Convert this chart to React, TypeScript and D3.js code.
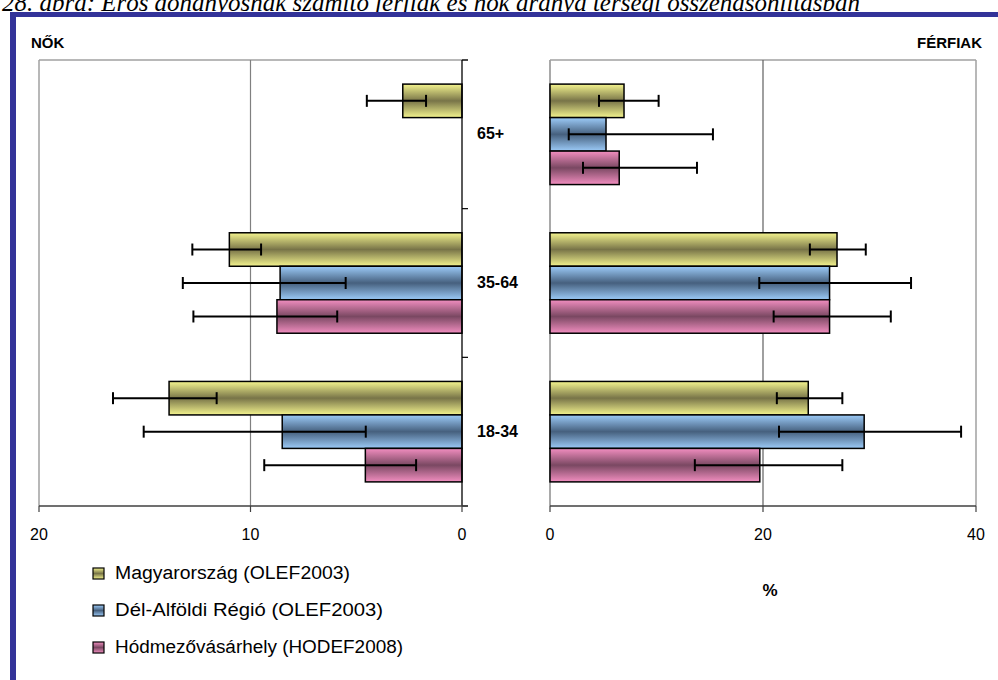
import React from "react";
import * as d3 from "d3";

const categories = ["65+", "35-64", "18-34"];
const seriesNames = [
  "Magyarország (OLEF2003)",
  "Dél-Alföldi Régió (OLEF2003)",
  "Hódmezővásárhely (HODEF2008)",
];
// Women (NŐK): value, lower CI, upper CI per category [65+, 35-64, 18-34]
const womenMagyar = [2.8, 11.0, 13.85];
const womenMagyarLo = [1.7, 9.5, 11.6];
const womenMagyarHi = [4.5, 12.75, 16.5];
const womenDel = [0, 8.6, 8.5];
const womenDelLo = [0, 5.5, 4.55];
const womenDelHi = [0, 13.2, 15.05];
const womenHod = [0, 8.75, 4.57];
const womenHodLo = [0, 5.9, 2.17];
const womenHodHi = [0, 12.7, 9.35];
// Men (FÉRFIAK)
const menMagyar = [6.95, 26.95, 24.25];
const menMagyarLo = [4.6, 24.4, 21.3];
const menMagyarHi = [10.2, 29.65, 27.45];
const menDel = [5.26, 26.25, 29.5];
const menDelLo = [1.76, 19.65, 21.5];
const menDelHi = [15.3, 33.9, 38.6];
const menHod = [6.5, 26.25, 19.7];
const menHodLo = [3.1, 21.0, 13.6];
const menHodHi = [13.8, 32.0, 27.45];

const womenTicks = [20, 10, 0];
const menTicks = [0, 20, 40];

const gradIds = ["gY", "gB", "gP"];
const gradColors = [
  ["#f4f48e", "#787448"],
  ["#9ccbf8", "#46607e"],
  ["#f28ec0", "#7a4862"],
];

export default function App() {
  const W = 998, H = 680;
  const top = 60, bottom = 506;
  const xL = d3.scaleLinear().domain([20, 0]).range([39, 462]);
  const xR = d3.scaleLinear().domain([0, 40]).range([550, 976]);
  const y0 = d3.scaleBand<string>().domain(categories).range([top, bottom]).padding(0);
  const y1 = d3.scaleBand<number>().domain([0, 1, 2]).range([0, y0.bandwidth()]).paddingInner(0).paddingOuter(0.72);

  const women = [
    { v: womenMagyar, lo: womenMagyarLo, hi: womenMagyarHi },
    { v: womenDel, lo: womenDelLo, hi: womenDelHi },
    { v: womenHod, lo: womenHodLo, hi: womenHodHi },
  ];
  const men = [
    { v: menMagyar, lo: menMagyarLo, hi: menMagyarHi },
    { v: menDel, lo: menDelLo, hi: menDelHi },
    { v: menHod, lo: menHodLo, hi: menHodHi },
  ];

  const font = "Arial, 'Liberation Sans', sans-serif";
  const bw = y1.bandwidth();

  const renderBars = (data: typeof women, x: d3.ScaleLinear<number, number>, side: "L" | "R") =>
    data.map((s, si) =>
      categories.map((c, ci) => {
        const yy = (y0(c) as number) + (y1(si) as number);
        const x0 = x(0);
        const xv = x(s.v[ci]);
        const rx = Math.min(x0, xv);
        const rw = Math.abs(xv - x0);
        const cy = yy + bw / 2;
        const hasErr = s.hi[ci] > 0;
        return (
          <g key={side + si + "-" + ci}>
            <rect x={rx} y={yy} width={rw} height={bw} fill={`url(#${gradIds[si]})`} stroke="#000" strokeWidth={1.5} />
            {hasErr && (
              <g stroke="#000" strokeWidth={2}>
                <line x1={x(s.lo[ci])} x2={x(s.hi[ci])} y1={cy} y2={cy} />
                <line x1={x(s.lo[ci])} x2={x(s.lo[ci])} y1={cy - 6} y2={cy + 6} />
                <line x1={x(s.hi[ci])} x2={x(s.hi[ci])} y1={cy - 6} y2={cy + 6} />
              </g>
            )}
          </g>
        );
      })
    );

  const boundaries = [top, ...categories.map((c) => (y0(c) as number) + y0.bandwidth())];

  return (
    <svg width={W} height={H} style={{ position: "absolute", left: 0, top: 0, background: "#fff" }}>
      <defs>
        {gradIds.map((id, i) => (
          <linearGradient key={id} id={id} x1="0" y1="0" x2="0" y2="1">
            <stop offset="0" stopColor={gradColors[i][0]} />
            <stop offset="0.5" stopColor={gradColors[i][1]} />
            <stop offset="1" stopColor={gradColors[i][0]} />
          </linearGradient>
        ))}
      </defs>
      <rect x={0} y={0} width={W} height={H} fill="#fff" />
      {/* partially visible title (cut at the top as in the source) */}
      <text x={2} y={11} fontFamily="'Liberation Serif', 'Times New Roman', serif" fontStyle="italic" fontSize={25}
        textLength={858} lengthAdjust="spacingAndGlyphs" fill="#000">
        28. ábra: Erős dohányosnak számító férfiak és nők aránya térségi összehasonlításban
      </text>
      {/* frame */}
      <rect x={10} y={12} width={W - 10} height={5} fill="#333399" />
      <rect x={10} y={12} width={6} height={H - 12} fill="#333399" />

      <text x={31} y={48} fontFamily={font} fontWeight="bold" fontSize={15} fill="#000">NŐK</text>
      <text x={982} y={48} fontFamily={font} fontWeight="bold" fontSize={15} fill="#000" textAnchor="end">FÉRFIAK</text>

      {/* Left panel frame + grid */}
      <line x1={xL(20)} x2={xL(0) + 6} y1={top} y2={top} stroke="#a0a0a0" strokeWidth={1.5} />
      <line x1={xL(20)} x2={xL(20)} y1={top} y2={bottom} stroke="#a0a0a0" strokeWidth={1.5} />
      {womenTicks.filter((t) => t !== 0 && t !== 20).map((t) => (
        <line key={"gl" + t} x1={xL(t)} x2={xL(t)} y1={top} y2={bottom} stroke="#808080" strokeWidth={1.2} />
      ))}
      {/* Right panel frame + grid */}
      <line x1={xR(0)} x2={xR(40)} y1={top} y2={top} stroke="#a0a0a0" strokeWidth={1.5} />
      <line x1={xR(40)} x2={xR(40)} y1={top} y2={bottom} stroke="#a0a0a0" strokeWidth={1.5} />
      <line x1={xR(0)} x2={xR(0)} y1={top} y2={bottom} stroke="#a0a0a0" strokeWidth={1.8} />
      {menTicks.filter((t) => t !== 0 && t !== 40).map((t) => (
        <line key={"gr" + t} x1={xR(t)} x2={xR(t)} y1={top} y2={bottom} stroke="#606060" strokeWidth={1.2} />
      ))}

      {renderBars(women, xL, "L")}
      {renderBars(men, xR, "R")}

      {/* Left vertical axis (value 0) */}
      <line x1={xL(0)} x2={xL(0)} y1={top} y2={bottom} stroke="#000" strokeWidth={1.3} />
      {boundaries.map((b, i) => (
        <line key={"vt" + i} x1={xL(0)} x2={xL(0) + 6} y1={b} y2={b} stroke="#000" strokeWidth={1.2} />
      ))}

      {/* bottom axes */}
      <line x1={xL(20)} x2={xL(0) + 6} y1={bottom} y2={bottom} stroke="#404040" strokeWidth={1.5} />
      {womenTicks.map((t) => (
        <g key={"wt" + t}>
          <line x1={xL(t)} x2={xL(t)} y1={bottom} y2={bottom + 6} stroke="#404040" strokeWidth={1.2} />
          <text x={xL(t)} y={bottom + 34} textAnchor="middle" fontFamily={font} fontSize={16} fill="#000">{t}</text>
        </g>
      ))}
      <line x1={xR(0)} x2={xR(40)} y1={bottom} y2={bottom} stroke="#404040" strokeWidth={1.5} />
      {menTicks.map((t) => (
        <g key={"mt" + t}>
          <line x1={xR(t)} x2={xR(t)} y1={bottom} y2={bottom + 6} stroke="#404040" strokeWidth={1.2} />
          <text x={xR(t)} y={bottom + 34} textAnchor="middle" fontFamily={font} fontSize={16} fill="#000">{t}</text>
        </g>
      ))}

      {/* category labels */}
      {categories.map((c) => (
        <text key={c} x={477} y={(y0(c) as number) + y0.bandwidth() / 2 + 5} fontFamily={font} fontWeight="bold" fontSize={16} fill="#000">{c}</text>
      ))}

      <text x={770} y={596} textAnchor="middle" fontFamily={font} fontWeight="bold" fontSize={17} fill="#000">%</text>

      {/* legend */}
      {seriesNames.map((n, i) => {
        const cy = 573 + i * 37;
        const lens = [235, 268, 288];
        return (
          <g key={n}>
            <rect x={93} y={cy - 5} width={11} height={11} fill={`url(#${gradIds[i]})`} stroke="#000" strokeWidth={1.2} />
            <text x={115} y={cy + 6} fontFamily={font} fontSize={18} fill="#000" textLength={lens[i]} lengthAdjust="spacingAndGlyphs">{n}</text>
          </g>
        );
      })}
    </svg>
  );
}
